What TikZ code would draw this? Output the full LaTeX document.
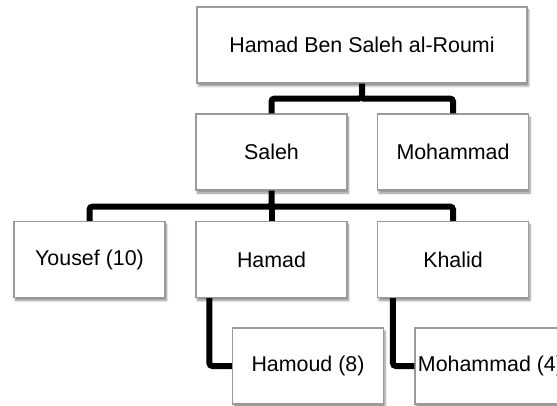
\documentclass[tikz,border=0pt]{standalone}
\usepackage{fontspec}
\setmainfont{Liberation Sans}
\usetikzlibrary{shadows.blur}
\definecolor{boxline}{HTML}{9A9A9A}
\tikzset{
  person/.style={draw=boxline, line width=1.2pt, fill=white,
    minimum height=76pt, minimum width=151pt, inner sep=0pt,
    font=\fontsize{21.4}{25}\selectfont,
    blur shadow={shadow xshift=1.5pt, shadow yshift=-3pt, shadow blur steps=6, shadow opacity=45}},
  link/.style={line width=6pt, black, rounded corners=3pt}
}
\begin{document}
\begin{tikzpicture}[x=1pt,y=-1pt]
\useasboundingbox (0,0) rectangle (557,406);
\node[person, minimum width=330pt] (top) at (362,45) {Hamad Ben Saleh al-Roumi};
\node[person] (saleh) at (271.5,152) {Saleh};
\node[person] (moh) at (453,152) {Mohammad};
\node[person] (yousef) at (89.5,259.5) {Yousef (10)};
\node[person] (hamad) at (271.5,259.5) {Hamad};
\node[person] (khalid) at (453,259.5) {Khalid};
\node[person] (hamoud) at (308,366) {Hamoud (8)};
\node[person] (moh4) at (490.5,366) {Mohammad (4)};
\coordinate (b1) at ([yshift=-15pt]top.south);
\coordinate (b2) at ([yshift=-16pt]saleh.south);
\draw[link] (top.south) -- (b1) -| (saleh.north);
\draw[link] (b1) -| (moh.north);
\draw[link] (saleh.south) -- (b2) -| (yousef.north);
\draw[link] (b2) -| (khalid.north);
\draw[link] (b2) -- (hamad.north);
\draw[link] ([xshift=14pt]hamad.south west) |- (hamoud.west);
\draw[link] ([xshift=16pt]khalid.south west) |- (moh4.west);
\end{tikzpicture}
\end{document}
